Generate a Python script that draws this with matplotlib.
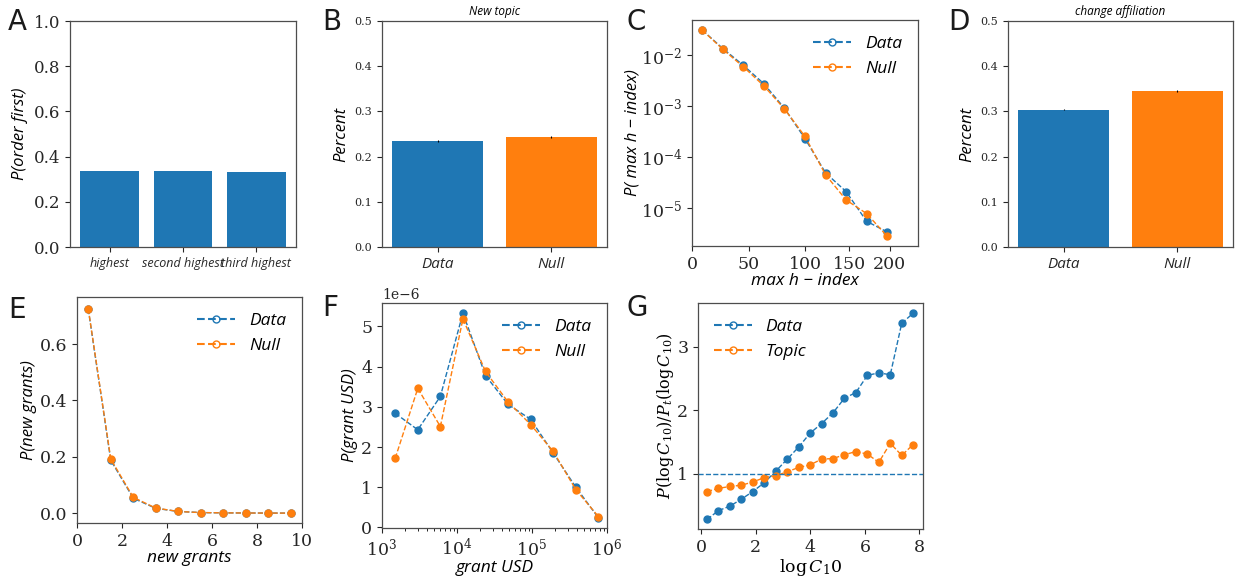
import numpy as np
import matplotlib
matplotlib.use("Agg")
import matplotlib.pyplot as plt
from matplotlib.lines import Line2D

BLUE = "#1f77b4"
ORANGE = "#ff7f0e"

# ---- data ----
order_labels = ["highest", "second highest", "third highest"]
order_first = [0.335, 0.335, 0.330]

bar_labels = ["Data", "Null"]
new_topic = [0.235, 0.244]
new_topic_err = [0.002, 0.002]
change_aff = [0.304, 0.346]
change_aff_err = [0.002, 0.002]

h_index = [9.1, 27.3, 45.5, 63.6, 81.8, 100.0, 118.2, 136.4, 154.5, 172.7]
h_data = [3.1e-2, 1.35e-2, 6.3e-3, 2.75e-3, 9.1e-4, 2.3e-4, 4.9e-5, 2.1e-5, 5.5e-6, 3.4e-6]
h_null = [3.1e-2, 1.3e-2, 5.9e-3, 2.5e-3, 8.8e-4, 2.54e-4, 4.5e-5, 1.44e-5, 7.8e-6, 2.8e-6]
h_ticks = [0, 50, 100, 139, 175]
h_ticklabels = ["0", "50", "100", "150", "200"]

grants = [0.5, 1.5, 2.5, 3.5, 4.5, 5.5, 6.5, 7.5, 8.5, 9.5]
grants_data = [0.724, 0.188, 0.053, 0.017, 0.006, 0.002, 0.001, 0.0005, 0.0002, 0.0001]
grants_null = [0.726, 0.192, 0.056, 0.018, 0.006, 0.002, 0.001, 0.0005, 0.0002, 0.0001]

usd = [1500, 3000, 6000, 12000, 24000, 48000, 96000, 192000, 384000, 768000]
usd_data = [2.84e-6, 2.43e-6, 3.26e-6, 5.33e-6, 3.78e-6, 3.06e-6, 2.69e-6, 1.85e-6, 1.00e-6, 0.24e-6]
usd_null = [1.72e-6, 3.46e-6, 2.51e-6, 5.19e-6, 3.88e-6, 3.12e-6, 2.56e-6, 1.89e-6, 0.94e-6, 0.27e-6]

logc = [0.21, 0.63, 1.05, 1.47, 1.89, 2.31, 2.73, 3.15, 3.57, 3.99, 4.41, 4.83,
        5.25, 5.67, 6.09, 6.51, 6.93, 7.35, 7.77]
ratio_data = [0.28, 0.42, 0.49, 0.60, 0.72, 0.86, 1.04, 1.23, 1.42, 1.64, 1.79, 1.96,
              2.19, 2.28, 2.55, 2.59, 2.56, 3.37, 3.53]
ratio_topic = [0.72, 0.77, 0.80, 0.82, 0.87, 0.94, 0.97, 1.03, 1.10, 1.14, 1.23, 1.24,
               1.30, 1.35, 1.31, 1.18, 1.48, 1.29, 1.46]

# ---- style ----
plt.rcParams["font.family"] = "DejaVu Serif"
plt.rcParams["mathtext.fontset"] = "dejavuserif"
lab_font = dict(family="Open Sans", style="italic")

fig = plt.figure(figsize=(12.38, 5.79), dpi=100)
W, H = 1238.0, 579.0


def make_ax(left, top, right, bottom):
    return fig.add_axes([left / W, 1 - bottom / H, (right - left) / W, (bottom - top) / H])


def style(ax, size=10):
    for s in ax.spines.values():
        s.set_color("0.3")
        s.set_linewidth(0.9)
    ax.tick_params(labelsize=size, colors="0.15", length=3.5, width=0.8)


def letter(x, y, t):
    fig.text(x / W, 1 - y / H, t, fontsize=20, family="DejaVu Sans", color="0.1",
             va="top", ha="left")


def leg(ax, cols, names, loc, **kw):
    hs = [Line2D([], [], color=c, ls="--", lw=1.5, marker="o", mfc="none",
                 markersize=5) for c in cols]
    ax.legend(hs, names, loc=loc, frameon=False, prop=dict(family="Open Sans", style="italic", size=12.5),
              handlelength=2.2, **kw)


# A
ax = make_ax(70, 21, 296, 247)
ax.bar(range(3), order_first, width=0.8, color=BLUE)
ax.set_ylim(0, 1.0)
ax.set_xticks(range(3))
ax.set_xticklabels(order_labels, fontsize=9, family="Open Sans", style="italic")
ax.set_ylabel("P(order first)", fontsize=12, **lab_font)
style(ax, 12)
ax.tick_params(axis="x", labelsize=9)
letter(8, 8, "A")

# B
ax = make_ax(382, 21, 607, 247)
ax.bar(range(2), new_topic, yerr=new_topic_err, width=0.8, color=[BLUE, ORANGE],
       error_kw=dict(elinewidth=0.8, ecolor="k"))
ax.set_ylim(0, 0.5)
ax.set_xticks(range(2))
ax.set_xticklabels(bar_labels, fontsize=11, **lab_font)
ax.set_ylabel("Percent", fontsize=12, **lab_font)
ax.set_title("New topic", fontsize=8.5, pad=4, **lab_font)
style(ax, 8)
ax.tick_params(axis="x", labelsize=11)
letter(322, 8, "B")

# C
ax = make_ax(692, 20, 918, 246)
ax.plot(h_index, h_data, "--o", color=BLUE, lw=1, markersize=5)
ax.plot(h_index, h_null, "--o", color=ORANGE, lw=1, markersize=5)
ax.set_yscale("log")
ax.set_xlim(0, 200)
ax.set_ylim(1.8e-6, 4.9e-2)
ax.set_xticks(h_ticks)
ax.set_xticklabels(h_ticklabels)
ax.set_xlabel("max h \u2212 index", fontsize=12.5, labelpad=0, **lab_font)
ax.set_ylabel("P( max h \u2212 index)", fontsize=12, labelpad=0, **lab_font)
style(ax, 12.5)
ax.tick_params(axis="y", which="minor", length=0)
leg(ax, [BLUE, ORANGE], ["Data", "Null"], "upper right")
letter(626, 8, "C")

# D
ax = make_ax(1008, 21, 1233, 247)
ax.bar(range(2), change_aff, yerr=change_aff_err, width=0.8, color=[BLUE, ORANGE],
       error_kw=dict(elinewidth=0.8, ecolor="k"))
ax.set_ylim(0, 0.5)
ax.set_xticks(range(2))
ax.set_xticklabels(bar_labels, fontsize=11, **lab_font)
ax.set_ylabel("Percent", fontsize=12, **lab_font)
ax.set_title("change affiliation", fontsize=8.5, pad=4, **lab_font)
style(ax, 8)
ax.tick_params(axis="x", labelsize=11)
letter(948, 8, "D")

# E
ax = make_ax(77, 297, 302, 523)
ax.plot(grants, grants_data, "--o", color=BLUE, lw=1, markersize=5)
ax.plot(grants, grants_null, "--o", color=ORANGE, lw=1, markersize=5)
ax.set_xlim(0, 10)
ax.set_ylim(-0.035, 0.767)
ax.set_xticks([0, 2, 4, 6, 8, 10])
ax.set_xlabel("new grants", fontsize=12.5, labelpad=0, **lab_font)
ax.set_ylabel("P(new grants)", fontsize=12, labelpad=2, **lab_font)
style(ax, 12.5)
leg(ax, [BLUE, ORANGE], ["Data", "Null"], "upper right")
letter(8, 296, "E")

# F
ax = make_ax(382, 303, 607, 528)
ax.plot(usd, usd_data, "--o", color=BLUE, lw=1, markersize=5)
ax.plot(usd, usd_null, "--o", color=ORANGE, lw=1, markersize=5)
ax.set_xscale("log")
ax.set_xlim(1e3, 1e6)
ax.set_xlabel("grant USD", fontsize=12.5, labelpad=0, **lab_font)
ax.set_ylabel("P(grant USD)", fontsize=12, labelpad=2, **lab_font)
style(ax, 12.5)
ax.tick_params(which="minor", length=2, width=0.6)
leg(ax, [BLUE, ORANGE], ["Data", "Null"], "upper right")
letter(322, 294, "F")

# G
ax = make_ax(698, 303, 923, 529)
ax.plot(logc, ratio_data, "--o", color=BLUE, lw=1, markersize=5)
ax.plot(logc, ratio_topic, "--o", color=ORANGE, lw=1, markersize=5)
ax.axhline(1, color=BLUE, ls="--", lw=1)
ax.set_xlim(-0.12, 8.13)
ax.set_ylim(0.13, 3.69)
ax.set_xticks([0, 2, 4, 6, 8])
ax.set_yticks([1, 2, 3])
ax.set_xlabel(r"$\log C_10$", fontsize=12.5, labelpad=1)
ax.set_ylabel(r"$P(\log C_{10})/P_t(\log C_{10})$", fontsize=11.5, labelpad=1)
style(ax, 12.5)
leg(ax, [BLUE, ORANGE], ["Data", "Topic"], "upper left")
letter(626, 294, "G")

fig.savefig("out.png", dpi=100)
